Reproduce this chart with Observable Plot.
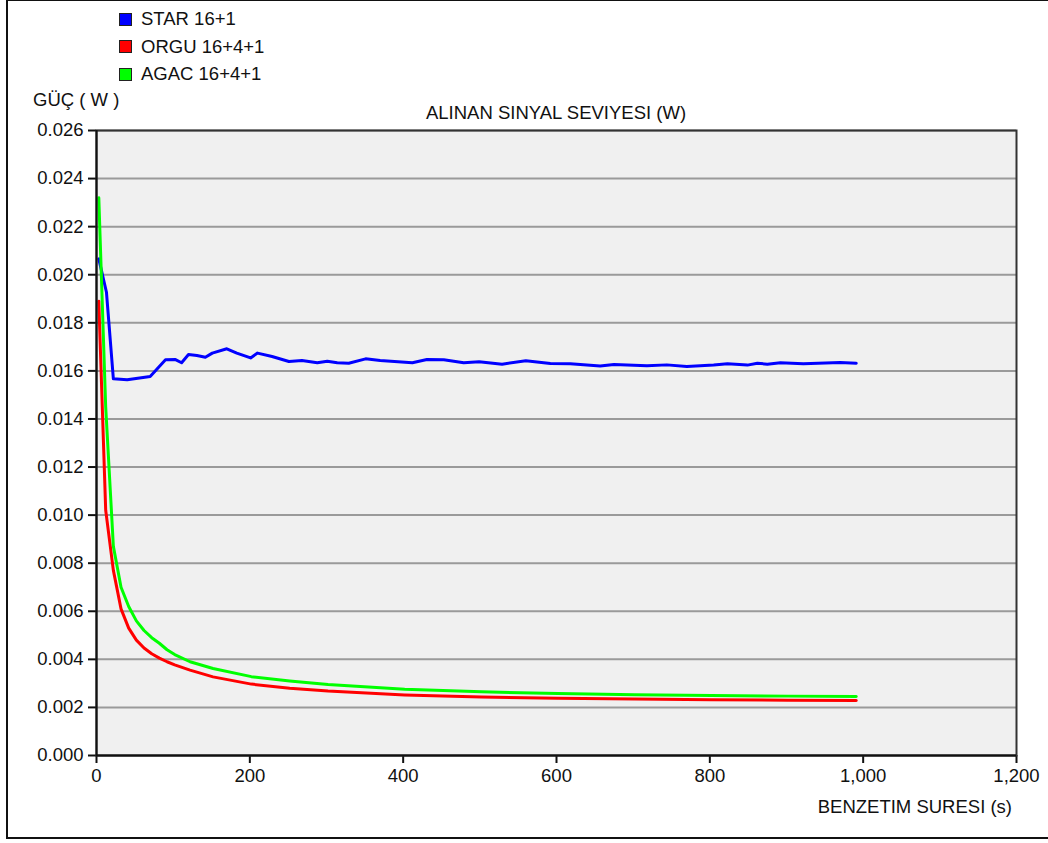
<!DOCTYPE html>
<html>
<head>
<meta charset="utf-8">
<script src="https://cdn.jsdelivr.net/npm/d3@7"></script>
<script src="https://cdn.jsdelivr.net/npm/@observablehq/plot@0.6"></script>
<style>
html,body{margin:0;padding:0;background:#fff;overflow:hidden;width:1048px;height:843px;}
#wrap{position:relative;width:1048px;height:843px;font-family:"Liberation Sans",Arial,sans-serif;color:#111;}
#border{position:absolute;left:6px;top:-1px;width:1100px;height:840px;border:2px solid #111;box-sizing:border-box;}
.lab{position:absolute;font-size:18.5px;white-space:nowrap;line-height:1;}
.leg{position:absolute;left:119px;font-size:18.5px;line-height:1;white-space:nowrap;display:flex;align-items:center;}
.leg span.sw{display:inline-block;width:11px;height:11px;border:1px solid #222;margin-right:9px;}
#chart{position:absolute;left:0;top:0;}
</style>
</head>
<body>
<div id="wrap">
  <div id="border"></div>
  <div id="chart"></div>
  <div id="legend"></div>
  <div class="lab" id="ylab" style="left:33px;top:91px;"></div>
  <div class="lab" id="title" style="left:556px;top:104px;transform:translateX(-50%);"></div>
  <div class="lab" id="xlab" style="right:36px;top:798px;"></div>
</div>
<script>
// ---- data ----
const seriesNames = ["STAR 16+1", "ORGU 16+4+1", "AGAC 16+4+1"];
const seriesColors = ["#0000ff", "#ff0000", "#00ff00"];
const titleText = "ALINAN SINYAL SEVIYESI (W)";
const yLabelText = "GÜÇ ( W )";
const xLabelText = "BENZETIM SURESI (s)";
const xTicks = [0, 200, 400, 600, 800, 1000, 1200];
const yTicks = [0, 0.002, 0.004, 0.006, 0.008, 0.010, 0.012, 0.014, 0.016, 0.018, 0.020, 0.022, 0.024, 0.026];

const starT = [3, 13, 22, 40, 70, 90, 103, 111, 120, 131, 142, 151, 170, 183, 201, 210, 229, 251, 268, 288, 301, 314, 329, 351, 370, 412, 431, 453, 479, 499, 529, 560, 592, 618, 657, 675, 718, 744, 770, 805, 823, 849, 862, 875, 892, 922, 970, 991];
const starV = [0.02066, 0.01927, 0.01567, 0.01563, 0.01577, 0.01646, 0.01647, 0.01634, 0.01668, 0.01664, 0.01657, 0.01674, 0.01692, 0.01674, 0.01654, 0.01674, 0.0166, 0.01639, 0.01643, 0.01634, 0.0164, 0.01634, 0.01632, 0.0165, 0.01643, 0.01634, 0.01647, 0.01646, 0.01634, 0.01638, 0.01628, 0.01642, 0.01631, 0.0163, 0.0162, 0.01627, 0.01621, 0.01625, 0.01618, 0.01624, 0.0163, 0.01624, 0.01632, 0.01628, 0.01634, 0.0163, 0.01635, 0.01632];

const meshT = [3, 12, 22, 32, 42, 52, 62, 72, 82, 92, 102, 122, 152, 202, 252, 302, 402, 502, 602, 702, 802, 902, 991];
const orguV = [0.0189, 0.0102, 0.0077, 0.0061, 0.0053, 0.0048, 0.00447, 0.00423, 0.00405, 0.0039, 0.00377, 0.00355, 0.00327, 0.00297, 0.0028, 0.00268, 0.00252, 0.00243, 0.00238, 0.00235, 0.00232, 0.0023, 0.00229];
const agacV = [0.0232, 0.0145, 0.0087, 0.0070, 0.0062, 0.0056, 0.0052, 0.0049, 0.00467, 0.0044, 0.0042, 0.0039, 0.00362, 0.00328, 0.0031, 0.00295, 0.00276, 0.00265, 0.00258, 0.00253, 0.0025, 0.00247, 0.00245];

// ---- build tables ----
const star = starT.map((t, i) => ({t, v: starV[i]}));
const orgu = meshT.map((t, i) => ({t, v: orguV[i]}));
const agac = meshT.map((t, i) => ({t, v: agacV[i]}));
const tables = [star, orgu, agac];

const plot = Plot.plot({
  width: 1048,
  height: 843,
  marginLeft: 96,
  marginRight: 32,
  marginTop: 130,
  marginBottom: 88,
  style: {fontFamily: "'Liberation Sans', Arial, sans-serif", fontSize: "18.5px", background: "transparent", color: "#111"},
  x: {domain: [0, 1200], label: null},
  y: {domain: [0, 0.026], label: null},
  marks: [
    Plot.frame({fill: "#f0f0f0"}),
    Plot.ruleY(yTicks, {stroke: "#9a9a9a", strokeWidth: 2}),
    Plot.axisY({ticks: yTicks, tickFormat: d3.format(".3f"), tickSize: 8, tickPadding: 5, strokeWidth: 2, label: null}),
    Plot.axisX({ticks: xTicks, tickFormat: d3.format(","), tickSize: 8, tickPadding: 5, strokeWidth: 2, label: null}),
    ...tables.map((tb, i) => Plot.lineY(tb, {x: "t", y: "v", stroke: seriesColors[i], strokeWidth: 3})),
    Plot.frame({stroke: "#333", strokeWidth: 2}),
    Plot.ruleX([0], {stroke: "#111", strokeWidth: 2}),
    Plot.ruleY([0], {stroke: "#111", strokeWidth: 2})
  ]
});
document.getElementById("chart").appendChild(plot);

document.getElementById("ylab").textContent = yLabelText;
document.getElementById("title").textContent = titleText;
document.getElementById("xlab").textContent = xLabelText;
const leg = document.getElementById("legend");
seriesNames.forEach((n, i) => {
  const d = document.createElement("div");
  d.className = "leg";
  d.style.top = (10 + i * 27.5) + "px";
  const sw = document.createElement("span");
  sw.className = "sw";
  sw.style.background = seriesColors[i];
  d.appendChild(sw);
  d.appendChild(document.createTextNode(n));
  leg.appendChild(d);
});
</script>
</body>
</html>
